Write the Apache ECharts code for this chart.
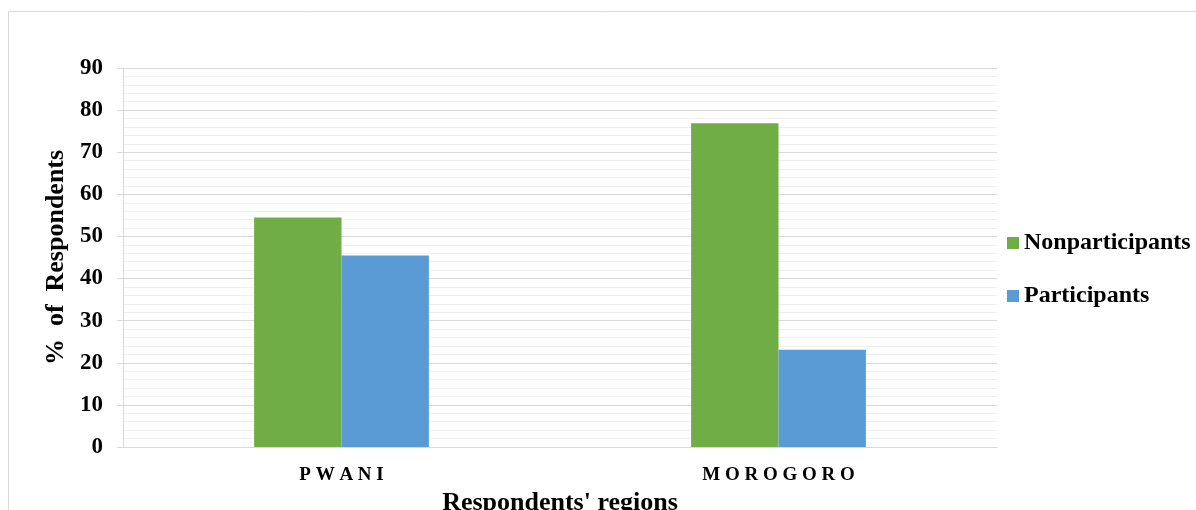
<!DOCTYPE html>
<html>
<head>
<meta charset="utf-8">
<script src="https://cdn.jsdelivr.net/npm/echarts@6/dist/echarts.min.js"></script>
<style>html,body{margin:0;padding:0;background:#fff}#c{width:1196px;height:510px}</style>
</head>
<body>
<div id="c"></div>
<script>
const categories = ['PWANI', 'MOROGORO'];
const nonparticipants = [54.5, 76.9];
const participants = [45.5, 23.1];
const yMin = 0, yMax = 90, yStep = 10;

const FONT = '"Liberation Serif", "Times New Roman", serif';
const chart = echarts.init(document.getElementById('c'), null, {renderer: 'canvas'});
chart.setOption({
  animation: false,
  backgroundColor: '#fff',
  graphic: [{
    type: 'polyline', silent: true,
    shape: {points: [[8.5, 510], [8.5, 11.5], [1196, 11.5]]},
    style: {stroke: '#d9d9d9', lineWidth: 1, fill: null}
  }],
  grid: {left: 123, right: 199, top: 68, bottom: 63, containLabel: false, outerBoundsMode: 'none'},
  legend: {
    orient: 'vertical', left: 1007, top: 231, padding: 0,
    itemWidth: 12, itemHeight: 12, itemGap: 29, icon: 'rect',
    textStyle: {fontFamily: FONT, fontWeight: 'bold', fontSize: 24, color: '#000', lineHeight: 24},
    data: ['Nonparticipants', 'Participants']
  },
  xAxis: {
    type: 'category', data: categories,
    name: "Respondents' regions", nameLocation: 'middle', nameGap: 33,
    nameTextStyle: {fontFamily: FONT, fontWeight: 'bold', fontSize: 26, color: '#000'},
    axisLine: {lineStyle: {color: '#d9d9d9', width: 1}},
    axisTick: {show: false},
    axisLabel: {
      fontFamily: FONT, fontWeight: 'bold', fontSize: 19, color: '#000', margin: 19,
      formatter: v => v.split('').join(' ')
    }
  },
  yAxis: {
    type: 'value', min: yMin, max: yMax, interval: yStep,
    name: '%  of  Respondents', nameLocation: 'middle', nameGap: 46,
    nameTextStyle: {fontFamily: FONT, fontWeight: 'bold', fontSize: 26, color: '#000'},
    axisLine: {show: true, lineStyle: {color: '#d9d9d9', width: 1}},
    axisTick: {show: true, length: 6, lineStyle: {color: '#d9d9d9'}},
    axisLabel: {fontFamily: FONT, fontWeight: 'bold', fontSize: 23, color: '#000', margin: 20},
    splitLine: {lineStyle: {color: '#d9d9d9', width: 1}},
    minorTick: {show: false, splitNumber: 5},
    minorSplitLine: {show: true, lineStyle: {color: '#efefef', width: 1}}
  },
  series: [
    {name: 'Nonparticipants', type: 'bar', data: nonparticipants, barGap: '0%', barCategoryGap: '60%',
     itemStyle: {color: '#70ad47'}},
    {name: 'Participants', type: 'bar', data: participants, barGap: '0%', barCategoryGap: '60%',
     itemStyle: {color: '#5b9bd5'}}
  ]
});
</script>
</body>
</html>
